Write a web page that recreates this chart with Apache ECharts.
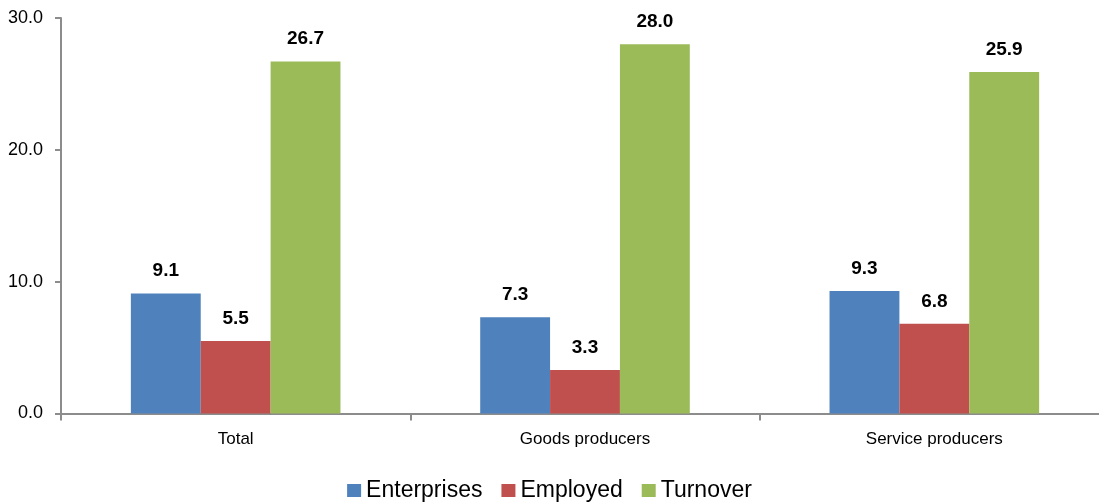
<!DOCTYPE html>
<html><head><meta charset="utf-8">
<script src="https://cdn.jsdelivr.net/npm/echarts@6/dist/echarts.min.js"></script>
<style>html,body{margin:0;padding:0;background:#fff}#c{width:1099px;height:502px}</style>
</head><body><div id="c"></div>
<script>
const categories = ['Total', 'Goods producers', 'Service producers'];
const enterprises = [9.1, 7.3, 9.3];
const employed = [5.5, 3.3, 6.8];
const turnover = [26.7, 28.0, 25.9];
const seriesNames = ['Enterprises', 'Employed', 'Turnover'];
const colors = ['#4F81BD', '#C0504D', '#9BBB59'];
const FONT = '"Liberation Sans", Arial, sans-serif';

const chart = echarts.init(document.getElementById('c'), null, {renderer: 'canvas'});
const mk = (name, data, color) => ({
  name, type: 'bar', data, barGap: '0%', barCategoryGap: '40%',
  itemStyle: {color},
  label: {show: true, position: 'top', distance: 13, formatter: p => p.value.toFixed(1),
    fontFamily: FONT, fontWeight: 'bold', fontSize: 19, color: '#000'}
});
chart.setOption({
  animation: false,
  textStyle: {fontFamily: FONT},
  grid: {left: 61, width: 1048, top: 18, bottom: 88.5, containLabel: false, outerBoundsMode: 'none'},
  legend: {
    top: 474, left: 'center', itemWidth: 14, itemHeight: 13, itemGap: 19,
    icon: 'rect',
    textStyle: {fontFamily: FONT, fontSize: 23, color: '#000'},
    data: seriesNames
  },
  xAxis: {
    type: 'category', data: categories,
    axisLine: {lineStyle: {color: '#8c8c8c', width: 2}},
    axisTick: {show: true, length: 7, lineStyle: {color: '#8c8c8c', width: 2}},
    axisLabel: {fontFamily: FONT, fontSize: 17, color: '#000', margin: 17}
  },
  yAxis: {
    type: 'value', min: 0, max: 30, interval: 10,
    axisLine: {show: true, lineStyle: {color: '#8c8c8c', width: 2}},
    axisTick: {show: true, length: 6, lineStyle: {color: '#8c8c8c', width: 2}},
    splitLine: {show: false},
    axisLabel: {fontFamily: FONT, fontSize: 18, color: '#000', margin: 18, formatter: v => v.toFixed(1)}
  },
  series: [mk(seriesNames[0], enterprises, colors[0]), mk(seriesNames[1], employed, colors[1]), mk(seriesNames[2], turnover, colors[2])]
});
</script></body></html>
